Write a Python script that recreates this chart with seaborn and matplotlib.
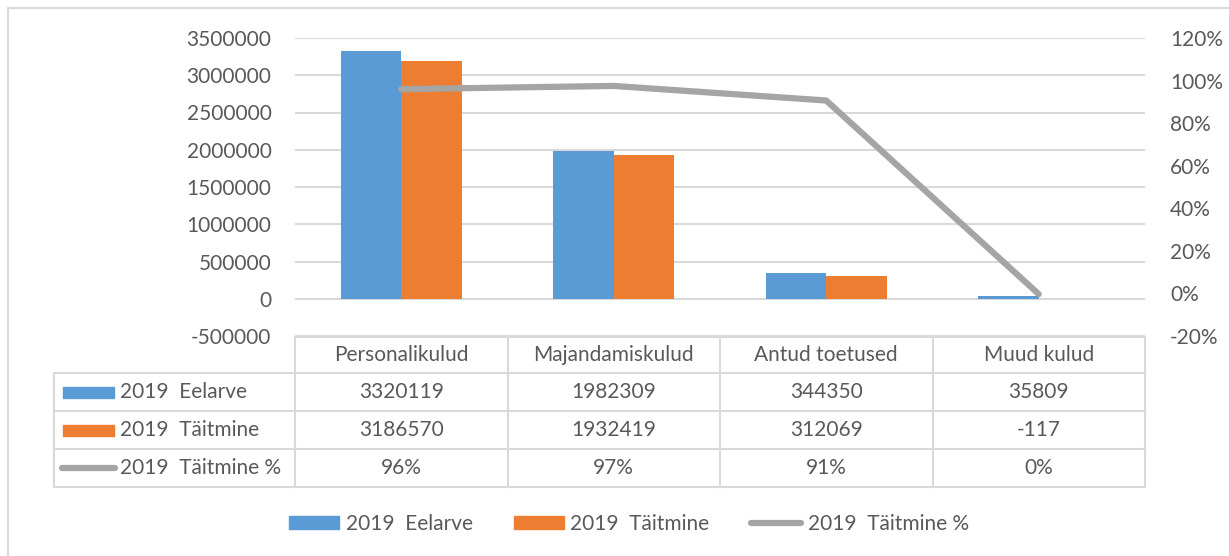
import matplotlib
matplotlib.use("Agg")
import matplotlib.pyplot as plt
import matplotlib.patches as mpatches
from matplotlib.lines import Line2D
from matplotlib.ticker import PercentFormatter, FuncFormatter
import seaborn as sns
import numpy as np
import pandas as pd

# data
categories = ["Personalikulud", "Majandamiskulud", "Antud toetused", "Muud kulud"]
eelarve = [3320119, 1982309, 344350, 35809]
taitmine = [3186570, 1932419, 312069, -117]
taitmine_pct = [0.9598, 0.9748, 0.9063, -0.0033]
series_names = ["2019  Eelarve", "2019  Täitmine", "2019  Täitmine %"]

BLUE = "#5B9BD5"
ORANGE = "#ED7D31"
GRAY = "#A5A5A5"
TEXT = "#595959"
GRID = "#D9D9D9"

sns.set_theme(style="white")
plt.rcParams["font.family"] = ["Lato", "DejaVu Sans"]
plt.rcParams["axes.unicode_minus"] = False
FS = 15

W, H = 1229, 556
fig = plt.figure(figsize=(W / 100, H / 100), dpi=100, facecolor="white")

# background axes in pixel coords for border + data table
bg = fig.add_axes([0, 0, 1, 1])
bg.set_xlim(0, W)
bg.set_ylim(H, 0)
bg.axis("off")
bg.plot([8, 8], [8, H], color=GRID, lw=1.5)
bg.plot([8, W], [8, 8], color=GRID, lw=1.5)

x0, x1 = 295, 1145
y_top, y_bot = 38, 336
ax = fig.add_axes([x0 / W, 1 - y_bot / H, (x1 - x0) / W, (y_bot - y_top) / H])
ax.patch.set_alpha(0)

df = pd.DataFrame({
    "category": categories * 2,
    "value": eelarve + taitmine,
    "series": [series_names[0]] * 4 + [series_names[1]] * 4,
})
sns.barplot(data=df, x="category", y="value", hue="series",
            palette=[BLUE, ORANGE], width=0.57, gap=0, ax=ax,
            legend=False, saturation=1, linewidth=0, zorder=3)
ax.set_xlim(-0.5, 3.5)
ax.set_ylim(-500000, 3500000)
ax.set_yticks(np.arange(-500000, 3500001, 500000))
ax.yaxis.set_major_formatter(FuncFormatter(lambda v, p: f"{int(v)}"))
ax.grid(axis="y", color=GRID, lw=1.5, zorder=0)
ax.set_axisbelow(True)
ax.set_xticks([])
ax.set_xlabel("")
ax.set_ylabel("")
for s in ax.spines.values():
    s.set_visible(False)
ax.tick_params(axis="y", length=0, pad=17, labelsize=FS, labelcolor=TEXT)

ax2 = ax.twinx()
sns.lineplot(x=np.arange(len(categories)), y=taitmine_pct, ax=ax2,
             color=GRAY, lw=4.5, solid_capstyle="round", zorder=4)
ax2.set_ylim(-0.2, 1.2)
ax2.set_yticks(np.arange(-0.2, 1.21, 0.2))
ax2.yaxis.set_major_formatter(PercentFormatter(1.0, decimals=0))
for s in ax2.spines.values():
    s.set_visible(False)
ax2.tick_params(axis="y", length=0, pad=18, labelsize=FS, labelcolor=TEXT)
ax2.set_ylabel("")

# data table
col_edges = np.linspace(x0, x1, len(categories) + 1)
row_edges = [337, 373, 411, 449, 487]
lt = 54
bg.plot([x0, x1], [row_edges[0]] * 2, color=GRID, lw=1.5)
for y in row_edges[1:]:
    bg.plot([lt, x1], [y, y], color=GRID, lw=1.5)
bg.plot([lt, lt], [row_edges[1], row_edges[-1]], color=GRID, lw=1.5)
for x in col_edges:
    bg.plot([x, x], [row_edges[0], row_edges[-1]], color=GRID, lw=1.5)

centers = (col_edges[:-1] + col_edges[1:]) / 2
ymid = [(row_edges[i] + row_edges[i + 1]) / 2 for i in range(4)]
for cx, c in zip(centers, categories):
    bg.text(cx, ymid[0], c, ha="center", va="center", fontsize=FS, color=TEXT)
rows = [
    [str(v) for v in eelarve],
    [str(v) for v in taitmine],
    [f"{round(v * 100):.0f}%" for v in taitmine_pct],
]
for r, vals in enumerate(rows):
    for cx, v in zip(centers, vals):
        bg.text(cx, ymid[r + 1], v, ha="center", va="center", fontsize=FS, color=TEXT)

# row keys
for r, col in enumerate([BLUE, ORANGE]):
    yc = ymid[r + 1]
    bg.add_patch(mpatches.Rectangle((63, yc - 5.5), 51, 11, color=col))
bg.plot([62, 115], [ymid[3]] * 2, color=GRAY, lw=4.5, solid_capstyle="round")
for r, name in enumerate(series_names):
    bg.text(120, ymid[r + 1], name, ha="left", va="center", fontsize=FS, color=TEXT)

# bottom legend
handles = [
    mpatches.Patch(color=BLUE, label=series_names[0]),
    mpatches.Patch(color=ORANGE, label=series_names[1]),
    Line2D([], [], color=GRAY, lw=4.5, solid_capstyle="round", label=series_names[2]),
]
leg = fig.legend(handles=handles, loc="center", bbox_to_anchor=(629 / W, 1 - 524 / H),
                 ncol=3, frameon=False, fontsize=FS, handlelength=2.4,
                 handleheight=0.55, handletextpad=0.3, columnspacing=2.0)
for t in leg.get_texts():
    t.set_color(TEXT)

fig.savefig("out.png", dpi=100, facecolor="white")
